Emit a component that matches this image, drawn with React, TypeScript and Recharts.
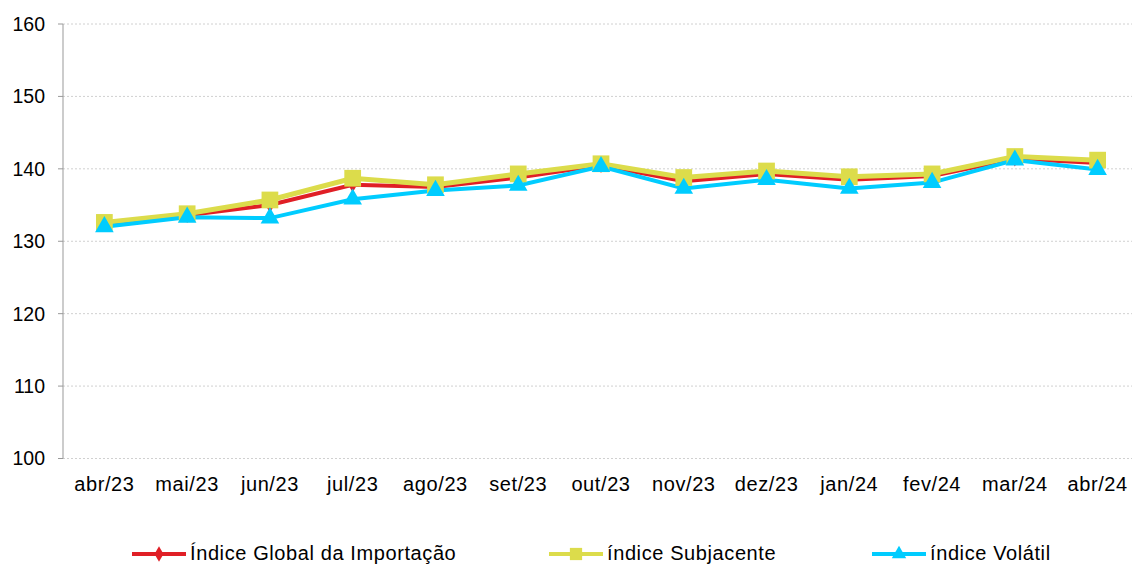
import React from 'react';
import { LineChart, Line, XAxis, YAxis, CartesianGrid, Legend, Symbols } from 'recharts';

const months = ['abr/23', 'mai/23', 'jun/23', 'jul/23', 'ago/23', 'set/23', 'out/23', 'nov/23', 'dez/23', 'jan/24', 'fev/24', 'mar/24', 'abr/24'];
const globalIdx = [132.4, 133.6, 135.0, 137.8, 137.5, 138.8, 140.5, 138.3, 139.3, 138.5, 139.0, 141.4, 140.8];
const subjacente = [132.6, 133.8, 135.7, 138.7, 137.8, 139.3, 140.7, 138.8, 139.7, 138.9, 139.3, 141.7, 141.2];
const volatil = [132.0, 133.3, 133.2, 135.8, 137.0, 137.7, 140.3, 137.3, 138.5, 137.3, 138.1, 141.2, 139.9];
const yTicks = [100, 110, 120, 130, 140, 150, 160];

const data = months.map((m, i) => ({
  idx: i,
  month: m,
  global: globalIdx[i],
  subj: subjacente[i],
  vol: volatil[i],
}));

const labelTicks = months.map((_, i) => i);
const markTicks = [...months.map((_, i) => i - 0.5), months.length - 0.5];

const RED = '#E01F26';
const YELLOW = '#DCDC4B';
const BLUE = '#00CCFF';
const FONT = '"Liberation Sans", Arial, sans-serif';

const legendItems = [
  { label: 'Índice Global da Importação', color: RED, type: 'diamond', size: 70, left: 132 },
  { label: 'índice Subjacente', color: YELLOW, type: 'square', size: 150, left: 549 },
  { label: 'índice Volátil', color: BLUE, type: 'triangle', size: 90, left: 872 },
];

const renderLegend = () => (
  <div style={{ position: 'relative', width: 1132, height: 26, fontFamily: FONT, fontSize: 20, letterSpacing: 0.6, color: '#000' }}>
    {legendItems.map((it) => (
      <div key={it.label} style={{ position: 'absolute', left: it.left, top: 0, display: 'flex', alignItems: 'center', whiteSpace: 'nowrap' }}>
        <svg width={54} height={20} style={{ display: 'block' }}>
          <line x1={0} y1={10} x2={54} y2={10} stroke={it.color} strokeWidth={4} />
          <Symbols cx={27} cy={10} type={it.type as any} size={it.size} fill={it.color} />
        </svg>
        <span style={{ marginLeft: 4 }}>{it.label}</span>
      </div>
    ))}
  </div>
);

const dot = (type: string, size: number, color: string) => (props: any) => (
  <Symbols key={`${type}-${props.index}`} cx={props.cx} cy={props.cy} type={type as any} size={size} fill={color} />
);

export default function App() {
  return (
    <div style={{ position: 'absolute', left: 0, top: 0, width: 1132, height: 564, overflow: 'hidden', background: '#fff' }}>
      <LineChart width={1140} height={564} data={data} margin={{ top: 24, right: 1, bottom: 0, left: 8 }}>
        <CartesianGrid vertical={false} stroke="#d0d0d0" strokeDasharray="2 2" xAxisId="labels" />
        <XAxis
          xAxisId="marks"
          type="number"
          dataKey="idx"
          domain={[-0.5, 12.5]}
          ticks={markTicks}
          tick={false}
          height={0}
          tickSize={6}
          stroke="#999"
          allowDataOverflow
        />
        <XAxis
          xAxisId="labels"
          type="number"
          dataKey="idx"
          domain={[-0.5, 12.5]}
          ticks={labelTicks}
          tickFormatter={(v: number) => months[v]}
          axisLine={false}
          tickLine={false}
          tickSize={0}
          tickMargin={18}
          height={105.5}
          interval={0}
          tick={{ fill: '#000', fontSize: 20, fontFamily: FONT, letterSpacing: 0.6 }}
        />
        <YAxis
          domain={[100, 160]}
          ticks={yTicks}
          width={55}
          tickSize={5}
          tickMargin={13}
          stroke="#999"
          interval={0}
          tick={{ fill: '#000', fontSize: 19.5, fontFamily: FONT }}
        />
        <Line xAxisId="labels" dataKey="global" stroke={RED} strokeWidth={4} dot={dot('diamond', 70, RED)} isAnimationActive={false} />
        <Line xAxisId="labels" dataKey="subj" stroke={YELLOW} strokeWidth={5} dot={dot('square', 280, YELLOW)} isAnimationActive={false} />
        <Line xAxisId="labels" dataKey="vol" stroke={BLUE} strokeWidth={4} dot={dot('triangle', 150, BLUE)} isAnimationActive={false} />
        <Legend
          layout="horizontal"
          verticalAlign="middle"
          align="center"
          content={renderLegend}
          wrapperStyle={{ top: 542, left: 0, width: 1132 }}
        />
      </LineChart>
    </div>
  );
}
